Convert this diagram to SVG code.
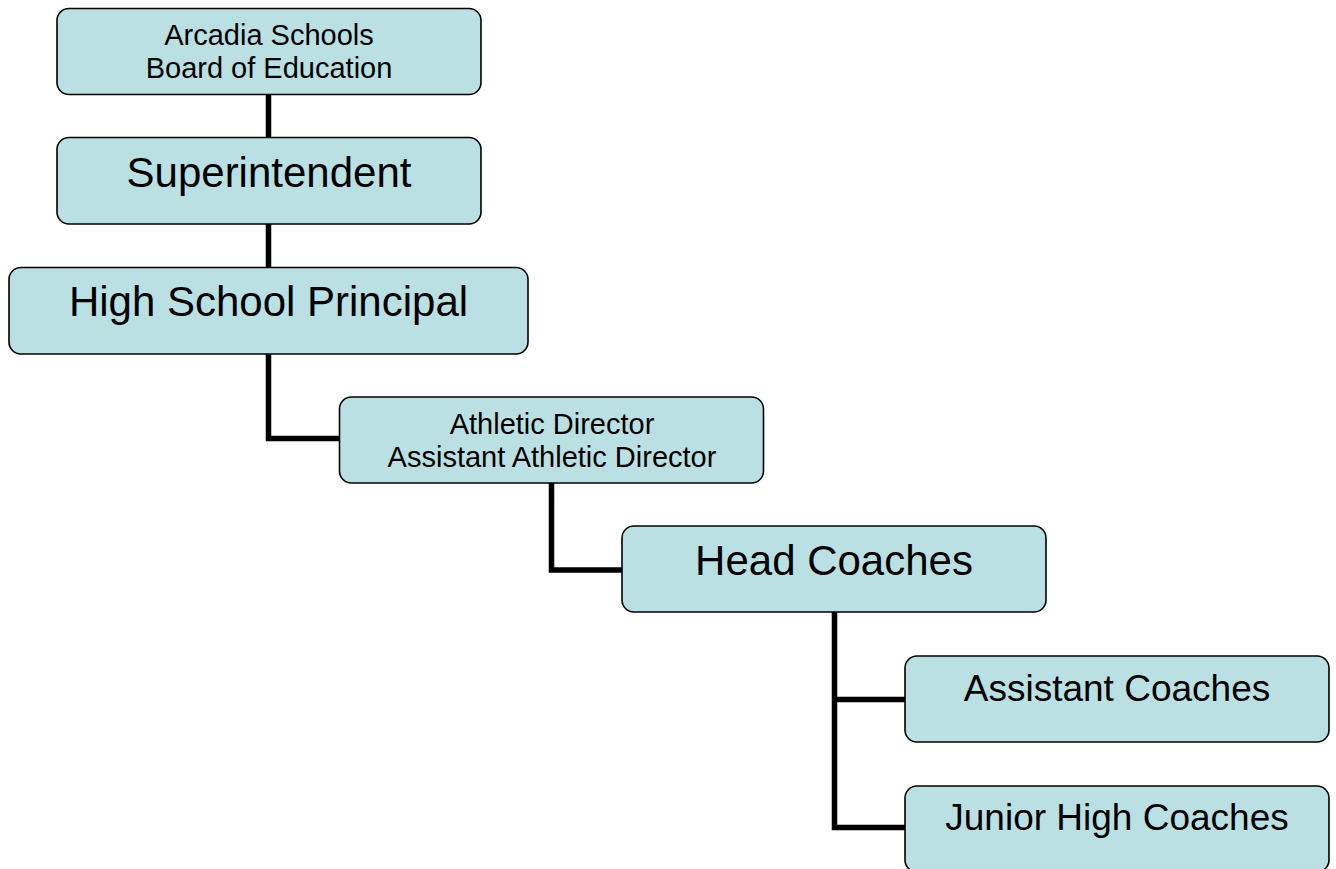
<svg xmlns="http://www.w3.org/2000/svg" width="1336" height="869" viewBox="0 0 1336 869">
  <style>
    .box { fill: #BBE0E3; stroke: #000000; stroke-width: 1.6; }
    .lbl { font-family: "Liberation Sans", Arial, sans-serif; fill: #000000; text-anchor: middle; }
    .s { font-size: 29px; }
    .l { font-size: 42px; }
    .m { font-size: 37px; }
    .conn { fill: none; stroke: #000000; stroke-width: 5.5; stroke-linejoin: miter; stroke-linecap: butt; }
  </style>
  <rect width="1336" height="869" fill="#FFFFFF"/>
  <g id="connectors">
    <path class="conn" d="M268.5 94 V138"/>
    <path class="conn" d="M268.5 224 V268"/>
    <path class="conn" d="M268.5 354 V438.5 H340"/>
    <path class="conn" d="M551.5 483 V570 H622.5"/>
    <path class="conn" d="M834.5 612 V827.5 H905.5"/>
    <path class="conn" d="M834.5 699.5 H905.5"/>
  </g>
  <g id="board">
    <rect class="box" x="57" y="8.5" width="424" height="86" rx="12"/>
    <text class="lbl s" x="269" y="44.5">Arcadia Schools</text>
    <text class="lbl s" x="269" y="78">Board of Education</text>
  </g>
  <g id="superintendent">
    <rect class="box" x="57" y="137.5" width="424" height="86.5" rx="12"/>
    <text class="lbl l" x="269" y="187">Superintendent</text>
  </g>
  <g id="principal">
    <rect class="box" x="9" y="267.5" width="519" height="86.5" rx="12"/>
    <text class="lbl l" x="268.5" y="316">High School Principal</text>
  </g>
  <g id="athletic">
    <rect class="box" x="339.5" y="397" width="424" height="86" rx="12"/>
    <text class="lbl s" x="552" y="433.5">Athletic Director</text>
    <text class="lbl s" x="552" y="466.5">Assistant Athletic Director</text>
  </g>
  <g id="head">
    <rect class="box" x="622" y="526" width="424" height="86" rx="12"/>
    <text class="lbl l" x="834" y="574.5">Head Coaches</text>
  </g>
  <g id="assistant">
    <rect class="box" x="905" y="656" width="424" height="86" rx="12"/>
    <text class="lbl m" x="1117" y="701">Assistant Coaches</text>
  </g>
  <g id="junior">
    <rect class="box" x="905" y="786" width="424" height="86" rx="12"/>
    <text class="lbl m" x="1117" y="830">Junior High Coaches</text>
  </g>
</svg>
